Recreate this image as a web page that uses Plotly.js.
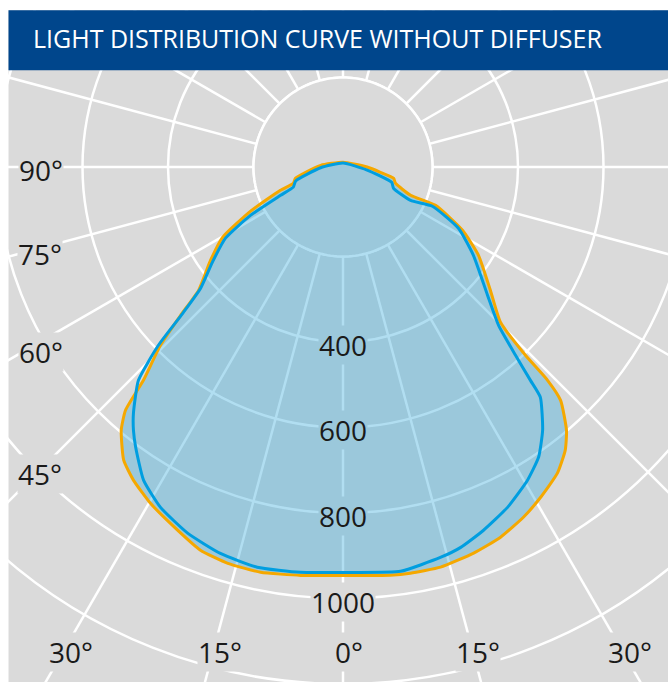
<!DOCTYPE html>
<html>
<head>
<meta charset="utf-8">
<script src="https://cdn.plot.ly/plotly-3.0.1.min.js"></script>
<style>
html,body{margin:0;padding:0;background:#fff;}
#wrap{position:relative;width:668px;height:682px;overflow:hidden;background:#fff;}
#chart{position:absolute;}
</style>
</head>
<body>
<div id="wrap"><div id="chart"></div></div>
<script>
// ---------------- data ----------------
const titleText = 'LIGHT DISTRIBUTION CURVE WITHOUT DIFFUSER';

// orange curve (luminous intensity, cd) vs angle (deg, 0 = down, + = right)
const orangeTheta = [-180, -94.3, -83.1, -76.6, -71.8, -69.6, -64.4, -59.7, -54.8, -49.5, -47.6, -45.7, -43.1, -41.8, -40.1, -36.8, -33.8, -29.8, -24.5, -20.4, -16.2, -11.5, -5.9, 0, 6.6, 9.4, 13.7, 18.7, 23.0, 27.3, 30.9, 35.0, 38.1, 40.3, 43.0, 43.8, 44.1, 45.4, 50.1, 56.9, 62.1, 67.5, 67.3, 72.8, 77.4, 82, 90, 180];
const orangeR     = [2, 43, 74, 105, 113, 147, 231, 317, 370, 435, 505, 587, 674, 754, 796, 847, 872, 897, 924, 947, 956, 958, 951, 946, 952, 954, 954, 944, 932, 912, 891, 865, 833, 799, 737, 682, 604, 508, 440, 369, 307, 225, 162, 119, 112, 79, 47, 2];

// blue curve
const blueTheta = [-180, -88, -73.6, -68, -65.6, -62.4, -58.8, -53.9, -49.6, -47.6, -46, -43.8, -40.4, -38.5, -36.5, -32.5, -28.2, -23, -17.6, -12.1, -6, 0, 8.1, 14, 17.2, 21.1, 25.8, 30.5, 34, 37.2, 40.6, 41.3, 42.5, 44.5, 48.4, 55.9, 62, 66.3, 63.7, 67.1, 72.5, 83.2, 180];
const blueR     = [0, 43, 106, 116, 151, 235, 312, 369, 428, 499, 591, 682, 747, 778, 806, 859, 894, 921, 939, 948, 944, 939, 946, 932, 922, 902, 875, 841, 809, 763, 700, 655, 588, 510, 443, 359, 297, 219, 167, 119, 110, 46, 0];

// axes
const radialGridVals  = [200, 400, 600, 800, 1000, 1200];
const radialLabelVals = [400, 600, 800, 1000];
const angularStep = 15;
const leftAngleLabels   = ['90°', '75°', '60°', '45°'];
const bottomAngleLabels = ['30°', '15°', '0°', '15°', '30°'];

// ---------------- geometry / styles ----------------
const CX = 342.5, CY = 166.7;      // pole position on the page
const RPX = 700;                   // polar radius in px
const PX_PER_CD = 0.4275, R0PX = 4;
const rMin = -R0PX / PX_PER_CD;
const rMax = rMin + RPX / PX_PER_CD;
const DIV = 2 * RPX;
const offX = CX - RPX, offY = CY - RPX;

const chartEl = document.getElementById('chart');
chartEl.style.left = offX + 'px';
chartEl.style.top = offY + 'px';
chartEl.style.width = DIV + 'px';
chartEl.style.height = DIV + 'px';

function px(x) { return (x - offX) / DIV; }
function py(y) { return 1 - (y - offY) / DIV; }

const GREY = '#dadada';
const FONT = 'Open Sans, Noto Sans, sans-serif';
const leftLabelPos = [[40, 169], [39, 253], [40, 351], [39, 473]];
const bottomLabelX = [71, 219, 348, 477, 629];
const bottomLabelY = 651;

// decorative inner disk (hides the spokes inside the first ring)
const diskTheta = [], diskR = [];
for (let a = 0; a <= 360; a += 2) { diskTheta.push(a); diskR.push(radialGridVals[0]); }

const traces = [
  { type: 'scatterpolar', theta: diskTheta, r: diskR, mode: 'lines', fill: 'toself',
    fillcolor: GREY, line: { color: 'white', width: 2.5 }, hoverinfo: 'skip', showlegend: false },
  { type: 'scatterpolar', theta: orangeTheta, r: orangeR, mode: 'lines', fill: 'toself',
    fillcolor: 'rgba(60,173,221,0.4)', line: { color: '#f5a800', width: 3, shape: 'spline', smoothing: 0.5 }, showlegend: false },
  { type: 'scatterpolar', theta: blueTheta, r: blueR, mode: 'lines',
    line: { color: '#009ee0', width: 3, shape: 'spline', smoothing: 0.5 }, showlegend: false }
];

const annotations = [];
radialLabelVals.forEach(v => {
  annotations.push({
    xref: 'paper', yref: 'paper', x: px(CX), y: py(CY + R0PX + PX_PER_CD * v + 3),
    xanchor: 'center', yanchor: 'middle', showarrow: false, text: String(v),
    font: { family: FONT, size: 28, color: '#1a1a1a' },
    bgcolor: v >= 1000 ? GREY : '#9bc8db', borderpad: 0
  });
});
leftAngleLabels.forEach((t, i) => {
  annotations.push({
    xref: 'paper', yref: 'paper', x: px(leftLabelPos[i][0]), y: py(leftLabelPos[i][1] + 1),
    xanchor: 'center', yanchor: 'middle', showarrow: false, text: t,
    font: { family: FONT, size: 28, color: '#1a1a1a' }, bgcolor: GREY, borderpad: 0
  });
});
bottomAngleLabels.forEach((t, i) => {
  annotations.push({
    xref: 'paper', yref: 'paper', x: px(bottomLabelX[i]), y: py(bottomLabelY + 1),
    xanchor: 'center', yanchor: 'middle', showarrow: false, text: t,
    font: { family: FONT, size: 28, color: '#1a1a1a' }, bgcolor: GREY, borderpad: 0
  });
});
annotations.push({
  xref: 'paper', yref: 'paper', x: px(30), y: py(38),
  xanchor: 'left', yanchor: 'middle', showarrow: false, text: titleText,
  font: { family: FONT, size: 25, color: 'white' }
});

const shapes = [
  { type: 'rect', xref: 'paper', yref: 'paper', layer: 'above', line: { width: 0 }, fillcolor: 'white',
    x0: px(-5), x1: px(8), y0: py(-5), y1: py(700) },
  { type: 'rect', xref: 'paper', yref: 'paper', layer: 'above', line: { width: 0 }, fillcolor: 'white',
    x0: px(-5), x1: px(700), y0: py(-5), y1: py(10) },
  { type: 'rect', xref: 'paper', yref: 'paper', layer: 'above', line: { width: 0 }, fillcolor: '#00468c',
    x0: px(8), x1: px(700), y0: py(10), y1: py(70) }
];

const layout = {
  width: DIV, height: DIV,
  margin: { l: 0, r: 0, t: 0, b: 0, pad: 0 },
  paper_bgcolor: 'white',
  showlegend: false,
  hovermode: false,
  polar: {
    domain: { x: [0, 1], y: [0, 1] },
    bgcolor: GREY,
    angularaxis: {
      rotation: -90, direction: 'counterclockwise',
      tickmode: 'linear', tick0: 0, dtick: angularStep,
      showticklabels: false, ticks: '', showline: false,
      showgrid: true, gridcolor: 'white', gridwidth: 2.5
    },
    radialaxis: {
      range: [rMin, rMax], tickmode: 'array', tickvals: radialGridVals,
      showticklabels: false, ticks: '', showline: false,
      showgrid: true, gridcolor: 'white', gridwidth: 2.5
    }
  },
  annotations: annotations,
  shapes: shapes
};

Plotly.newPlot(chartEl, traces, layout, { staticPlot: true, displayModeBar: false });
</script>
</body>
</html>
